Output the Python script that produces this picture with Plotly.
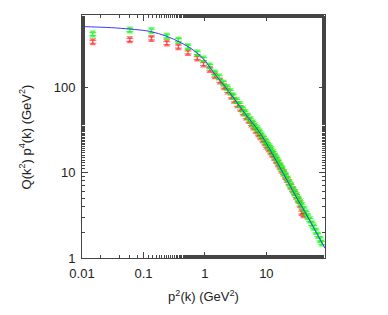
import plotly.graph_objects as go

# blue fit curve
line_x = [0.01, 0.03, 0.06, 0.127, 0.24, 0.39, 0.57, 0.94, 1.36, 2, 3, 4.7, 7.4, 10, 18.8, 30, 42, 60, 90]
line_y = [510, 495, 477, 448, 392, 335, 288, 215, 150, 107, 73, 47, 31, 22, 9.8, 5.3, 3.5, 2.2, 1.3]

green_x = [0.015, 0.06, 0.135, 0.24, 0.37, 0.53, 0.75, 0.95, 1.2, 1.45,
           1.7, 2.0, 2.3, 2.6, 2.9, 3.3, 3.7, 4.1, 4.5, 5.0,
           5.5, 6.0, 6.5, 7.1, 7.7, 8.3, 9.0, 9.7, 10.4, 11.2,
           12.0, 12.9, 13.8, 14.8, 15.8, 16.9, 18.0, 19.2, 20.5, 22.0,
           23.5, 25.0, 27.0, 29.0, 31.0, 33.0, 35.5, 38.0, 41.0, 44.0,
           47.0, 51.0, 55.0, 59.0, 64.0, 69.0, 75.0, 80.0]
green_y = [417, 464, 456, 392, 354, 297, 250, 213, 176, 146,
           131, 111, 98, 88, 78, 69, 62, 55, 50, 45.5,
           41.5, 38, 35, 32.5, 30, 27.5, 25.3, 23.3, 21.5, 20,
           18.6, 17, 15.5, 14.4, 13.2, 12, 11.1, 10, 9.2, 8.4,
           7.6, 7.0, 6.3, 5.8, 5.3, 4.9, 4.5, 4.1, 3.7, 3.35,
           3.05, 2.8, 2.5, 2.3, 2.05, 1.85, 1.65, 1.5]

red_x = [0.015, 0.06, 0.135, 0.24, 0.37, 0.53, 0.75, 0.95, 1.2,
         1.45, 1.75, 2.05, 2.35, 2.7, 3.0, 3.4, 3.8, 4.2,
         4.7, 5.2, 5.7, 6.2, 6.8, 7.4, 8.0, 8.7, 9.4,
         10.1, 10.9, 11.7, 12.6, 13.5, 14.5, 15.5, 16.6, 17.8,
         19.0, 20.4, 21.8, 23.3, 25.0, 26.8, 28.7, 30.7, 32.9,
         35.2, 37.7, 40.3]
red_y = [339, 357, 371, 327, 297, 254, 218, 186, 161,
         136, 118, 101, 90, 78, 70, 62, 56, 50,
         44.5, 40.5, 37, 34, 31, 28.5, 26.3, 24.2, 22.3,
         20.5, 19, 17.5, 16.2, 15, 13.8, 12.7, 11.7, 10.7,
         9.9, 9.0, 8.3, 7.6, 6.9, 6.3, 5.8, 5.3, 4.8,
         4.2, 3.4, 3.2]

x_tickvals = [0.01, 0.1, 1, 10]
x_ticktext = ["0.01", "0.1", "1", "10"]
y_tickvals = [1, 10, 100]
y_ticktext = ["1", "10", "100"]

FONT = "Liberation Sans, Arial"

fig = go.Figure()
fig.add_trace(go.Scatter(
    x=red_x, y=red_y, mode="markers",
    marker=dict(symbol="hourglass", size=7, color="rgba(255,20,20,0.6)"),
    error_y=dict(type="percent", value=4, width=3.5, thickness=1.2, color="rgba(255,20,20,0.55)"),
    showlegend=False))
fig.add_trace(go.Scatter(
    x=green_x, y=green_y, mode="markers",
    marker=dict(symbol="hourglass", size=7, color="rgba(20,255,20,0.75)"),
    error_y=dict(type="percent", value=4, width=3.5, thickness=1.2, color="rgba(20,240,20,0.7)"),
    showlegend=False))
fig.add_trace(go.Scatter(
    x=line_x, y=line_y, mode="lines", line=dict(color="#3a3aff", width=1, shape="spline"),
    showlegend=False))

axis_common = dict(
    type="log", showgrid=False, zeroline=False,
    showline=True, linecolor="#444", linewidth=1, mirror="allticks",
    ticks="inside", ticklen=6, tickcolor="#444",
    minor=dict(ticks="inside", ticklen=3, tickcolor="#444", showgrid=False),
    tickfont=dict(family=FONT, size=13, color="#222"),
    ticklabelstandoff=3,
)
fig.update_xaxes(**axis_common, range=[-2, 1.954], tickvals=x_tickvals, ticktext=x_ticktext,
                 title=dict(text="p<sup>2</sup>(k) (GeV<sup>2</sup>)", standoff=12,
                            font=dict(family=FONT, size=13, color="#222")))
fig.update_yaxes(**axis_common, range=[0, 2.843], tickvals=y_tickvals, ticktext=y_ticktext)
fig.add_annotation(
    text="Q(k<sup>2</sup>) p<sup>4</sup>(k) (GeV<sup>2</sup>)",
    xref="paper", yref="paper", x=-0.235, y=0.5, xanchor="center", yanchor="middle",
    textangle=-90, showarrow=False, font=dict(family=FONT, size=13, color="#222"))
fig.update_layout(
    width=380, height=307,
    margin=dict(l=74, r=63, t=7, b=57, autoexpand=False),
    plot_bgcolor="white", paper_bgcolor="white",
)
fig.write_html("out.html")
